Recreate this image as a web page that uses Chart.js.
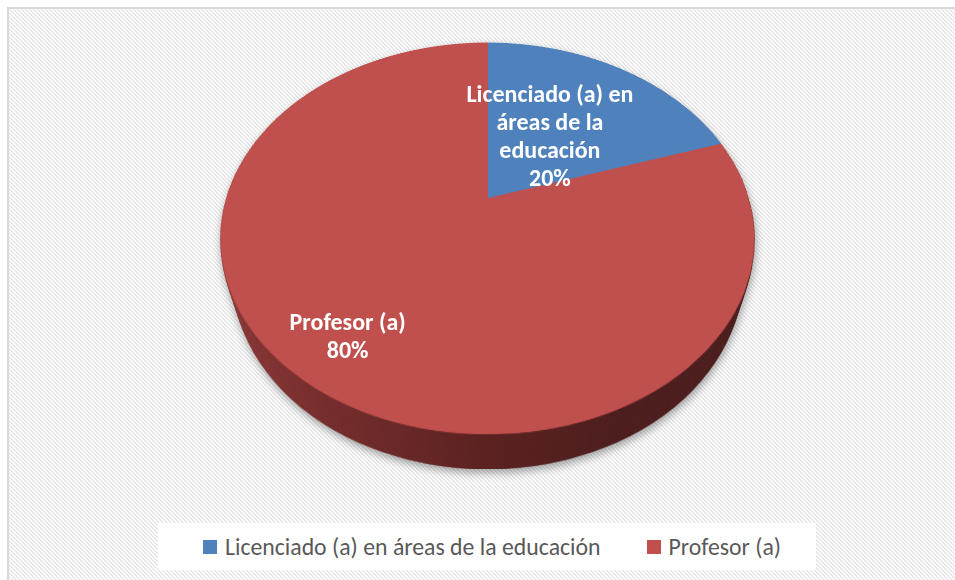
<!DOCTYPE html>
<html lang="es">
<head>
<meta charset="utf-8">
<script src="https://cdn.jsdelivr.net/npm/chart.js@4.4.1/dist/chart.umd.min.js"></script>
<style>
    html, body { margin: 0; padding: 0; background: #ffffff; }
    body { width: 955px; height: 580px; overflow: hidden; position: relative; }
    #frame {
        position: absolute; left: 7px; top: 7px; width: 960px; height: 590px;
        border-top: 2px solid #d9d9d9; border-left: 2px solid #d9d9d9;
        background: #f7f7f7;
    }
    #pieWrap {
        position: absolute; left: 0; top: 0; width: 955px; height: 580px;
        filter: drop-shadow(1px 4px 4px rgba(0, 0, 0, 0.35));
    }
    .layer, #pie {
        position: absolute; width: 523px; height: 523px;
        transform-origin: 50% 50%;
    }
    .layer { border-radius: 50%; }
    .dlabel {
        position: absolute; color: #ffffff; font-weight: bold; text-align: center;
        transform: translate(-50%, -50%); white-space: normal;
    }
    #legend {
        position: absolute; left: 158px; top: 523px; width: 648px; height: 47px;
        padding-left: 10px;
        background: #ffffff; display: flex; align-items: center; justify-content: center;
        color: #595959;
    }
    .item { display: flex; align-items: center; }
    .item + .item { margin-left: 46px; }
    .swatch { width: 14px; height: 14px; margin-right: 8px; }
</style>
</head>
<body>
<div id="frame"></div>
<div id="pieWrap"></div>
<div id="labels"></div>
<div id="legend"></div>
<script>
// Datos del gráfico
const categories = ['Licenciado (a) en áreas de la educación', 'Profesor (a)'];
const shares = [20, 80];
const sliceColors = ['#4f81bd', '#c0504d'];

// Vista 3D (perspectiva del pastel)
const PIE_SIZE = 523;
const PIE_CX = 487, PIE_CY = 198;
const TILT = 44.1;          // grados
const PERSP = 891;          // px
const DEPTH = 58;           // grosor del pastel
const labelRadius = [0.44, 0.79];

// Fondo rayado (patrón diagonal)
(function () {
    const tile = document.createElement('canvas');
    tile.width = 4; tile.height = 4;
    const tctx = tile.getContext('2d');
    const tones = ['#e4e4e4', '#efefef', '#ffffff', '#fafafa'];
    for (let y = 0; y < 4; y++) {
        for (let x = 0; x < 4; x++) {
            tctx.fillStyle = tones[((x - y) % 4 + 4) % 4];
            tctx.fillRect(x, y, 1, 1);
        }
    }
    document.getElementById('frame').style.background = `url(${tile.toDataURL()})`;
})();

// Detectar fuente disponible
function hasFont(name) {
    const c = document.createElement('canvas').getContext('2d');
    const s = 'Licenciado áreas mmmwwwiii 0123';
    let diff = false;
    ['monospace', 'serif'].forEach(g => {
        c.font = '40px ' + g;
        const a = c.measureText(s).width;
        c.font = `40px "${name}", ${g}`;
        if (c.measureText(s).width !== a) diff = true;
    });
    return diff;
}
const FONT = ['Carlito', 'Calibri', 'Lato', 'Open Sans', 'Noto Sans', 'Liberation Sans', 'DejaVu Sans']
    .find(hasFont) || 'sans-serif';

// Tamaño de letra ajustado al ancho del original
function fitSize(text, weight, target) {
    const c = document.createElement('canvas').getContext('2d');
    c.font = `${weight} 100px "${FONT}"`;
    return Math.min(24, 100 * target / c.measureText(text).width);
}
const labelSize = fitSize('Licenciado (a) en', 'bold', 167);
const legendSize = fitSize(categories[0], 'normal', 376);

// Capas del costado (de la más profunda a la superficie)
const wrap = document.getElementById('pieWrap');
const baseTransform = `perspective(${PERSP}px) rotateX(${TILT}deg)`;
const pieLeft = PIE_CX - PIE_SIZE / 2, pieTop = PIE_CY - PIE_SIZE / 2;
for (let k = DEPTH; k >= 1; k--) {
    const d = document.createElement('div');
    d.className = 'layer';
    d.style.left = pieLeft + 'px';
    d.style.top = pieTop + 'px';
    d.style.transform = `${baseTransform} translateZ(${-k}px)`;
    d.style.background = 'linear-gradient(to right, #8e3836 0%, #742c2b 25%, #5a2120 50%, #4d1d1d 70%, #4a1c1c 100%)';
    wrap.appendChild(d);
}
const canvas = document.createElement('canvas');
canvas.id = 'pie';
canvas.width = PIE_SIZE;
canvas.height = PIE_SIZE;
canvas.style.left = pieLeft + 'px';
canvas.style.top = pieTop + 'px';
canvas.style.transform = baseTransform;
wrap.appendChild(canvas);

// Proyección de un punto del plano del pastel a la pantalla
function project(px, py) {
    const lx = px - PIE_SIZE / 2, ly = py - PIE_SIZE / 2;
    const t = TILT * Math.PI / 180;
    const s = PERSP / (PERSP - ly * Math.sin(t));
    return { x: PIE_CX + lx * s, y: PIE_CY + ly * Math.cos(t) * s };
}

const total = shares.reduce((a, b) => a + b, 0);
const labelsEl = document.getElementById('labels');

const dataLabelPlugin = {
    id: 'flatLabels',
    afterDraw(chart) {
        labelsEl.innerHTML = '';
        const meta = chart.getDatasetMeta(0);
        meta.data.forEach((arc, i) => {
            const p = arc.getProps(['x', 'y', 'startAngle', 'endAngle', 'outerRadius'], true);
            const mid = (p.startAngle + p.endAngle) / 2;
            const r = p.outerRadius * labelRadius[i];
            const pos = project(p.x + Math.cos(mid) * r, p.y + Math.sin(mid) * r);
            const el = document.createElement('div');
            el.className = 'dlabel';
            el.style.left = pos.x + 'px';
            el.style.top = pos.y + 'px';
            el.style.font = `bold ${labelSize}px/28px "${FONT}", sans-serif`;
            el.style.width = '180px';
            const pct = Math.round(chart.data.datasets[0].data[i] / total * 100);
            el.innerHTML = `<div>${chart.data.labels[i]}</div><div>${pct}%</div>`;
            labelsEl.appendChild(el);
        });
    }
};

const chart = new Chart(canvas.getContext('2d'), {
    type: 'pie',
    data: {
        labels: categories,
        datasets: [{
            data: shares,
            backgroundColor: sliceColors,
            borderColor: sliceColors,
            borderWidth: 1
        }]
    },
    options: {
        responsive: false,
        animation: false,
        layout: { padding: 0 },
        plugins: {
            legend: { display: false },
            tooltip: { enabled: false }
        }
    },
    plugins: [dataLabelPlugin]
});

// Leyenda
const legend = document.getElementById('legend');
legend.style.font = `${legendSize}px "${FONT}", sans-serif`;
categories.forEach((name, i) => {
    const item = document.createElement('div');
    item.className = 'item';
    item.innerHTML = `<span class="swatch" style="background:${sliceColors[i]}"></span><span>${name}</span>`;
    legend.appendChild(item);
});
</script>
</body>
</html>
